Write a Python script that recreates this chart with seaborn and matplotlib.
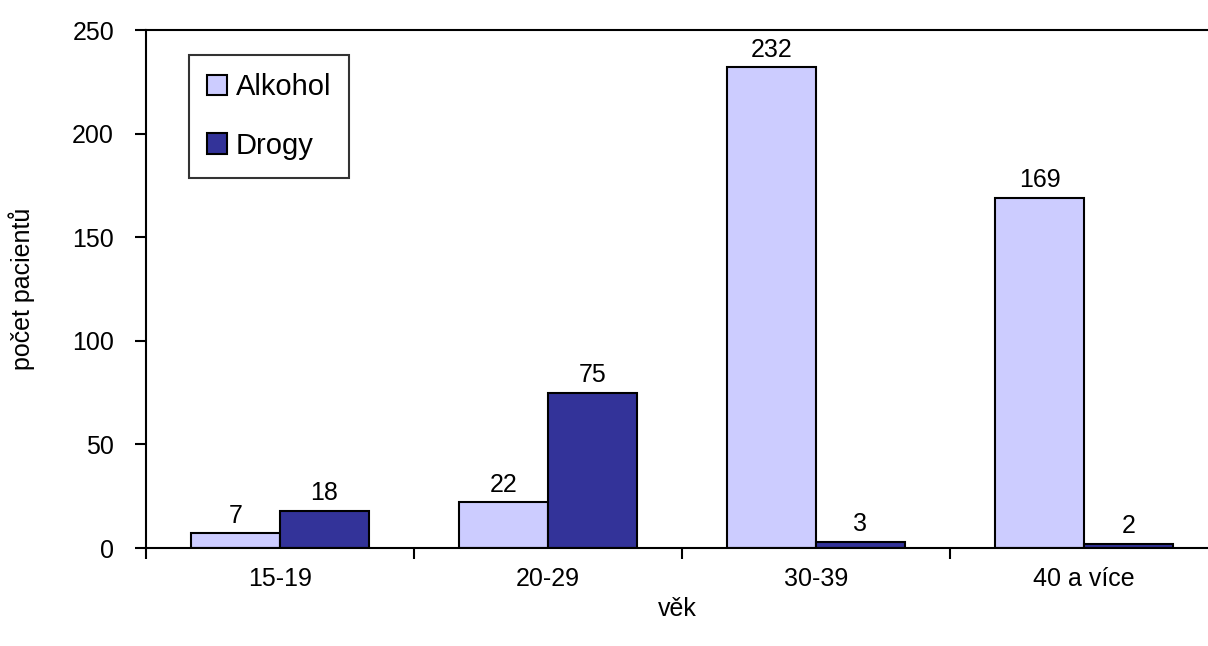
import pandas as pd
import matplotlib
matplotlib.use("Agg")
import matplotlib.pyplot as plt
import seaborn as sns

# data
age_groups = ["15-19", "20-29", "30-39", "40 a více"]
alkohol = [7, 22, 232, 169]
drogy = [18, 75, 3, 2]
series_names = ["Alkohol", "Drogy"]
y_ticks = [0, 50, 100, 150, 200, 250]

df = pd.DataFrame({
    "věk": age_groups * 2,
    "počet": alkohol + drogy,
    "typ": [series_names[0]] * len(age_groups) + [series_names[1]] * len(age_groups),
})

sns.set_style("white")
plt.rcParams["font.family"] = ["Liberation Sans", "DejaVu Sans"]
plt.rcParams["text.color"] = "black"
plt.rcParams["xtick.color"] = "black"
plt.rcParams["ytick.color"] = "black"
plt.rcParams["axes.labelcolor"] = "black"

fig = plt.figure(figsize=(12.08, 6.46), dpi=100)
ax = fig.add_axes([146 / 1208, 98 / 646, 1062 / 1208, 518 / 646])

sns.barplot(data=df, x="věk", y="počet", hue="typ", order=age_groups,
            hue_order=series_names, palette=["#CCCCFF", "#333399"],
            width=0.664, gap=0, edgecolor="black", linewidth=1.5,
            saturation=1, errorbar=None, ax=ax)

for cont in ax.containers:
    ax.bar_label(cont, padding=4, fontsize=18)

ax.set_ylim(0, 250)
ax.set_xlim(-0.5, 3.5 - 10 / 268)
ax.set_yticks(y_ticks)
ax.set_xticks(range(len(age_groups)))
ax.set_xticklabels(age_groups)
ax.set_xticks([-0.5, 0.5, 1.5, 2.5], minor=True)
ax.tick_params(axis="x", which="major", length=0, labelsize=18, pad=14)
ax.tick_params(axis="x", which="minor", length=8, width=1.5, direction="out", bottom=True)
ax.tick_params(axis="y", length=8, width=1.5, direction="out", left=True, labelsize=18, pad=15)

for side in ["left", "bottom", "top"]:
    ax.spines[side].set_visible(True)
    ax.spines[side].set_color("black")
    ax.spines[side].set_linewidth(1.5)
ax.spines["right"].set_visible(False)

ax.set_xlabel("věk", fontsize=18, labelpad=4)
ax.set_ylabel("počet pacientů", fontsize=18, labelpad=27)

leg = ax.legend(loc="upper left", bbox_to_anchor=(189 / 1208, 1 - 55 / 646),
                bbox_transform=fig.transFigure, fontsize=21, frameon=True,
                fancybox=False, handlelength=0.68, handleheight=0.68,
                handletextpad=0.3, labelspacing=1.05, borderpad=0.62,
                borderaxespad=0)
leg.get_frame().set_edgecolor("black")
leg.get_frame().set_linewidth(1.5)

fig.savefig("out.png", dpi=100)
